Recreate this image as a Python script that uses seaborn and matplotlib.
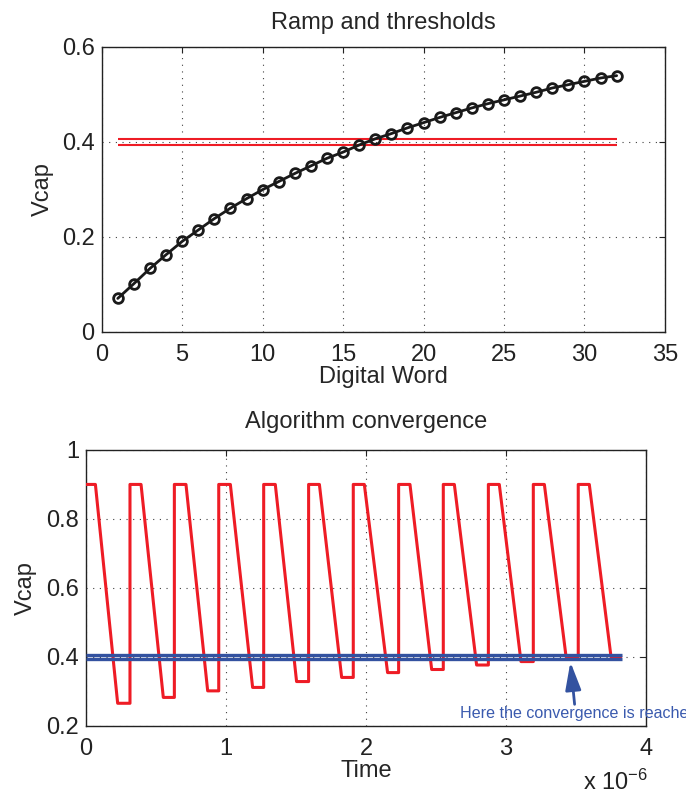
import numpy as np
import pandas as pd
import matplotlib
matplotlib.use("Agg")
import matplotlib.pyplot as plt
import seaborn as sns

# ramp: capacitor voltage for each digital word
digital_word = list(range(1, 33))
vcap_ramp = [0.070, 0.101, 0.133, 0.162, 0.190, 0.214, 0.238, 0.260, 0.280, 0.299,
             0.316, 0.333, 0.349, 0.365, 0.378, 0.393, 0.406, 0.417, 0.429, 0.440,
             0.451, 0.461, 0.471, 0.480, 0.488, 0.496, 0.504, 0.513, 0.520, 0.527,
             0.534, 0.539]
thr_high = 0.405
thr_low = 0.394

# algorithm convergence (time in microseconds)
time_us = [0.0, 0.067, 0.226, 0.314, 0.314, 0.393, 0.552, 0.631, 0.631, 0.714,
           0.869, 0.948, 0.948, 1.031, 1.190, 1.269, 1.269, 1.352, 1.504, 1.590,
           1.590, 1.667, 1.826, 1.909, 1.909, 1.988, 2.154, 2.233, 2.233, 2.314,
           2.469, 2.552, 2.552, 2.631, 2.790, 2.874, 2.874, 2.952, 3.107, 3.195,
           3.195, 3.274, 3.429, 3.516, 3.516, 3.595, 3.750, 3.820]
vcap_conv = [0.9, 0.9, 0.265, 0.265, 0.9, 0.9, 0.282, 0.282, 0.9, 0.9,
             0.301, 0.301, 0.9, 0.9, 0.311, 0.311, 0.9, 0.9, 0.328, 0.328,
             0.9, 0.9, 0.340, 0.340, 0.9, 0.9, 0.354, 0.354, 0.9, 0.9,
             0.363, 0.363, 0.9, 0.9, 0.376, 0.376, 0.9, 0.9, 0.386, 0.386,
             0.9, 0.9, 0.400, 0.400, 0.9, 0.9, 0.400, 0.400]
t_end = 3.83

sns.set_style("white")
plt.rcParams['font.family'] = ['Liberation Sans', 'DejaVu Sans']
plt.rcParams['font.size'] = 17
plt.rcParams['mathtext.fontset'] = 'custom'
plt.rcParams['mathtext.rm'] = 'Liberation Sans'
plt.rcParams['mathtext.it'] = 'Liberation Sans'
plt.rcParams['xtick.direction'] = 'in'
plt.rcParams['ytick.direction'] = 'in'
plt.rcParams['xtick.top'] = True
plt.rcParams['ytick.right'] = True
plt.rcParams['xtick.color'] = '#222222'
plt.rcParams['ytick.color'] = '#222222'
plt.rcParams['axes.edgecolor'] = '#222222'

RED = '#ee1c25'
BLUE = '#3352a0'

fig = plt.figure(figsize=(6.86, 7.95), dpi=100)
ax1 = fig.add_axes([0.1482, 0.5828, 0.8211, 0.3585])
ax2 = fig.add_axes([0.1254, 0.0872, 0.8163, 0.3468])

def style_axes(ax):
    ax.grid(True, color='0.25', linestyle=(0, (1, 5)), linewidth=0.8)
    ax.set_axisbelow(True)
    for s in ax.spines.values():
        s.set_linewidth(1.0)
        s.set_visible(True)
    ax.tick_params(axis='both', length=4, width=0.8, labelsize=17, colors='#222222')
    ax.tick_params(axis='x', pad=9)
    ax.tick_params(axis='y', pad=5)

# ---- top: ramp and thresholds
df_ramp = pd.DataFrame({'word': digital_word, 'vcap': vcap_ramp})
ax1.hlines([thr_high, thr_low], digital_word[0], digital_word[-1], colors=RED, linewidth=1.5, zorder=2)
sns.lineplot(data=df_ramp, x='word', y='vcap', ax=ax1, color='#1a1a1a', linewidth=2,
             marker='o', markersize=7, markerfacecolor='none', markeredgecolor='#1a1a1a',
             markeredgewidth=2, zorder=3)
ax1.set_xlim(0, 35)
ax1.set_ylim(0, 0.6)
ax1.set_xticks(range(0, 36, 5))
ax1.set_yticks([0, 0.2, 0.4, 0.6])
ax1.set_yticklabels(['0', '0.2', '0.4', '0.6'])
style_axes(ax1)
ax1.set_title('Ramp and thresholds', fontsize=17, pad=13)
ax1.set_xlabel('Digital Word', fontsize=17, labelpad=0)
ax1.set_ylabel('Vcap', fontsize=17, labelpad=6)

# ---- bottom: algorithm convergence
df_conv = pd.DataFrame({'t': time_us, 'vcap': vcap_conv})
sns.lineplot(data=df_conv, x='t', y='vcap', ax=ax2, color=RED, linewidth=2.2,
             estimator=None, sort=False, zorder=3)
ax2.hlines([thr_high, thr_low], 0, t_end, colors=BLUE, linewidth=2.4, zorder=4)
ax2.set_xlim(0, 4)
ax2.set_ylim(0.2, 1)
ax2.set_xticks([0, 1, 2, 3, 4])
ax2.set_yticks([0.2, 0.4, 0.6, 0.8, 1.0])
ax2.set_yticklabels(['0.2', '0.4', '0.6', '0.8', '1'])
style_axes(ax2)
ax2.set_title('Algorithm convergence', fontsize=17, pad=16)
ax2.set_xlabel('Time', fontsize=17, labelpad=0)
ax2.set_ylabel('Vcap', fontsize=17, labelpad=7)
ax2.text(3.78, 0.015, r'x 10$^{-6}$', fontsize=17, color='#222222', ha='center', va='baseline',
         transform=ax2.transData, clip_on=False)

ax2.annotate('', xy=(3.46, 0.385), xytext=(3.49, 0.262),
             arrowprops=dict(arrowstyle='-|>,head_length=1.0,head_width=0.28', color=BLUE,
                             lw=2, shrinkA=0, shrinkB=0), zorder=5)
# the reference runs this note past the right edge of the figure
ax2.text(2.67, 0.235, 'Here the convergence is reached', fontsize=11.6, color='#3a5aae',
         ha='left', va='center', clip_on=False)

fig.savefig('out.png', dpi=100)
